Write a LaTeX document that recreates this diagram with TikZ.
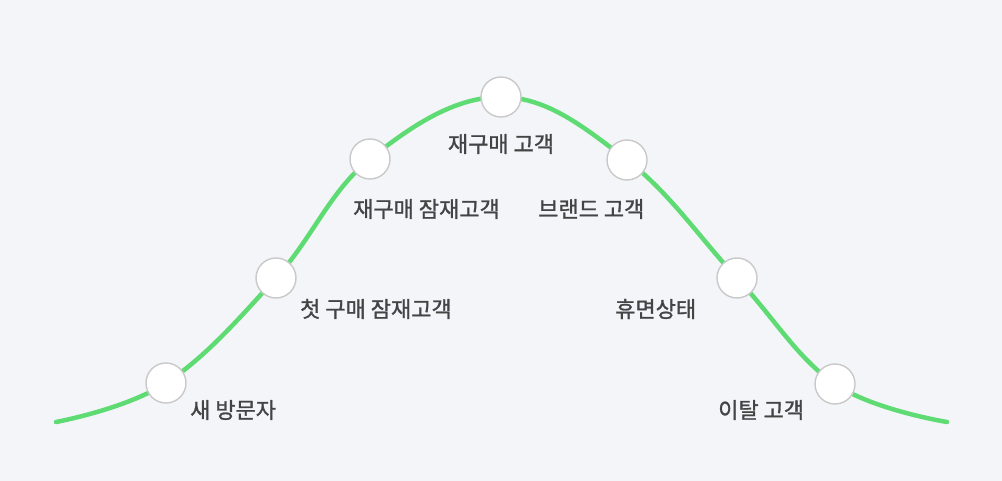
\documentclass[tikz,border=0pt]{standalone}
\usepackage{fontspec}
\newfontfamily\kr[FakeBold=1.2]{Noto Sans CJK KR}
\definecolor{bg}{HTML}{F4F5F9}
\definecolor{curve}{HTML}{5EDC73}
\definecolor{ring}{HTML}{C9C9C9}
\definecolor{txt}{HTML}{444444}
\begin{document}
\begin{tikzpicture}[x=1pt,y=-1pt,
  stage/.style={circle,fill=white,draw=ring,line width=1.4pt,minimum size=40pt,inner sep=0pt},
  lbl/.style={font=\kr\fontsize{22}{25}\selectfont,text=txt,inner sep=0pt,anchor=west}]
\fill[bg] (0,0) rectangle (1002,481);
\useasboundingbox (0,0) rectangle (1002,481);
\draw[curve,line width=4.5pt,line cap=round] plot[smooth,tension=0.65] coordinates
  {(56,422) (166,383) (276,278) (370,159) (501,97) (627,160) (737,278) (835,384) (947,422)};
\node[stage] (n1) at (166,383) {};
\node[stage] (n2) at (276,278) {};
\node[stage] (n3) at (370,159) {};
\node[stage] (n4) at (501,97) {};
\node[stage] (n5) at (627,160) {};
\node[stage] (n6) at (737,278) {};
\node[stage] (n7) at (835,384) {};
\node[lbl] (l1) at (190,410) {새 방문자};
\node[lbl] (l2) at (300,309) {첫 구매 잠재고객};
\node[lbl] (l3) at (353,209) {재구매 잠재고객};
\node[lbl,anchor=center] (l4) at (501,144) {재구매 고객};
\node[lbl] (l5) at (538,209) {브랜드 고객};
\node[lbl] (l6) at (615,309) {휴면상태};
\node[lbl] (l7) at (718,410) {이탈 고객};
\end{tikzpicture}
\end{document}
